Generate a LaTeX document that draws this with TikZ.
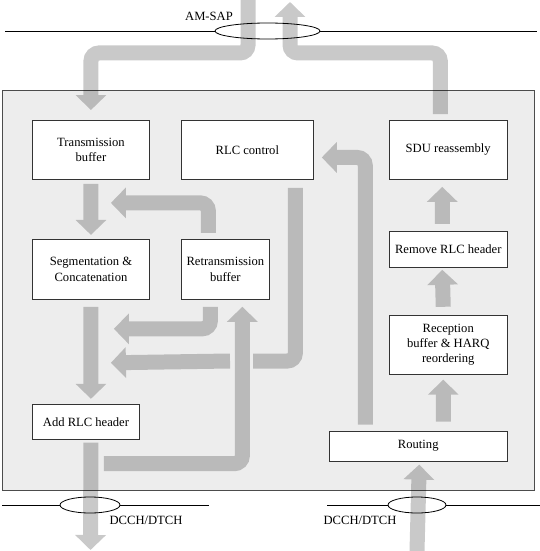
\documentclass[tikz,border=0pt]{standalone}
\usepackage{fontspec}
\setmainfont{Liberation Serif}
\usetikzlibrary{arrows.meta,positioning,calc}

\begin{document}
\begin{tikzpicture}[x=1pt,y=-1pt,font=\fontsize{12.6}{15.3}\selectfont,
blk/.style={draw=black!80,line width=0.9pt,fill=white,align=center,inner sep=0pt},
flow/.style={line width=15pt,draw=black,rounded corners=8pt,-{Triangle[width=30pt,length=15pt]}},
stub/.style={line width=15pt,draw=black,rounded corners=8pt},
chan/.style={draw=black,line width=0.8pt,fill=white}]
\useasboundingbox (0,0) rectangle (540,551);
% RLC entity
\draw[draw=black!70,line width=1pt,fill=black!7] (2,90) rectangle (534,490);
% service access points
\draw[line width=0.8pt] (5,31) -- (537,31);
\draw[chan] (267.5,31) ellipse [x radius=52.5pt,y radius=8pt];
\draw[line width=0.8pt] (2,505) -- (209,505);
\draw[chan] (90,505) ellipse [x radius=30pt,y radius=8pt];
\draw[line width=0.8pt] (327,505) -- (540,505);
\draw[chan] (417,505) ellipse [x radius=29pt,y radius=8pt];
\node (sap) at (209,16) {AM-SAP};
\node (dlch) at (146,520) {DCCH/DTCH};
\node (ulch) at (360,520) {DCCH/DTCH};
% blocks
\node[blk,anchor=north west,minimum width=117pt,minimum height=59pt] (tb) at (32,120) {Transmission\\buffer};
\node[blk,right=31pt of tb,minimum width=132pt,minimum height=59pt] (rlc) {RLC control};
\node[blk,right=75pt of rlc,minimum width=118pt,minimum height=59pt] (sdu) {SDU reassembly};
\node[blk,below=59pt of tb,minimum width=117pt,minimum height=60pt] (seg) {Segmentation \&\\Concatenation};
\node[blk,below=59pt of rlc.south west,anchor=north west,minimum width=88pt,minimum height=60pt] (rtx) {Retransmission\\buffer};
\node[blk,below=51pt of sdu,minimum width=118pt,minimum height=36pt] (rem) {Remove RLC header};
\node[blk,below=47pt of rem,minimum width=118pt,minimum height=59pt] (rec) {Reception\\buffer \& HARQ\\reordering};
\node[blk,below=56pt of rec.south east,anchor=north east,minimum width=178pt,minimum height=30pt] (rout) {Routing};
\node[blk,below=104pt of seg.south west,anchor=north west,minimum width=107pt,minimum height=35pt] (add) {Add RLC header};
% free ends
\coordinate (sapin) at (248,0);
\coordinate (sapout) at (290,2);
\coordinate (txout) at (90.5,550);
\coordinate (rxin) at (417,551);
\coordinate (gapR) at (253,361);
\coordinate (gapL) at (230,361);
% data flows
\begin{scope}[transparency group,opacity=.21]
\draw[flow] (sapin) -- ++(0,53) -| ($(tb.north)+(0,-10)$);
\draw[flow] ($(sdu.north)+(-8,-6)$) -- ++(0,-61) -| (sapout);
\draw[flow] ($(tb.south)+(0,4)$) -- ($(seg.north)+(0,-4)$);
\draw[flow] ($(rtx.north)+(-17,-6)$) |- ($(seg.north east)+(-39,-36)$);
\draw[stub] ($(rlc.south)+(48,8)$) |- (gapR);
\draw[flow] (gapL) -- ($(seg.south east)+(-39,63)$);
\draw[flow] ($(add.south east)+(-36,24)$) -| ($(rtx.south)+(17,7)$);
\draw[flow] ($(rtx.south)+(-15,7)$) |- ($(seg.south east)+(-36,29)$);
\draw[flow] ($(seg.south)+(0,7)$) -- ($(add.north -| seg.south)+(0,-5)$);
\draw[flow] ($(add.south -| seg.south)+(0,3)$) -- (txout);
\draw[flow] ($(rout.north)+(-53,-6)$) |- ($(rlc.east)+(8,7.5)$);
\draw[flow] ($(rout.north)+(25,-9)$) -- ($(rec.south)+(-5,5)$);
\draw[flow] ($(rec.north)+(-5,-8)$) -- ($(rem.south)+(-6,2)$);
\draw[flow] ($(rem.north)+(-6,-7)$) -- ($(sdu.south)+(-6,7)$);
\draw[flow] (rxin) -- ($(rout.south)+(1,3)$);
\end{scope}
\end{tikzpicture}
\end{document}
